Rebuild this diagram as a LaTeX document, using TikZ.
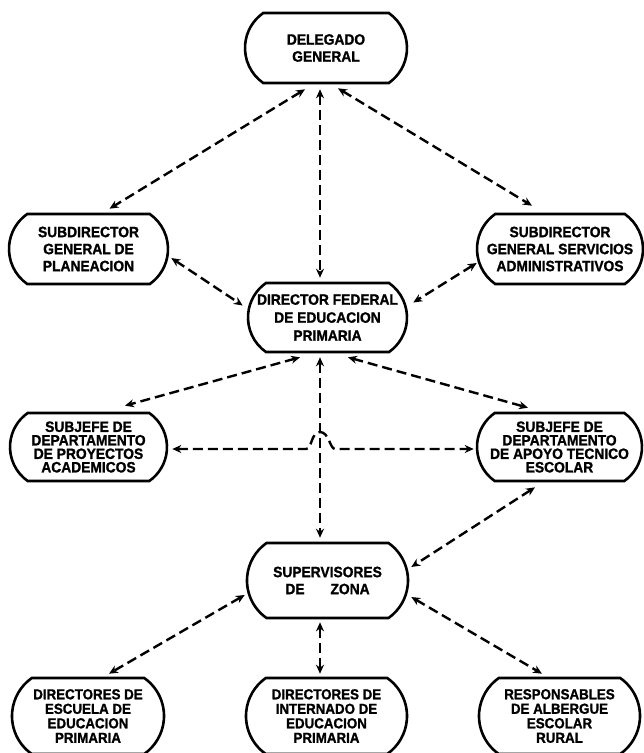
\documentclass[tikz,border=0pt]{standalone}
\usepackage{fontspec}
\newfontfamily\labfont[FakeStretch=0.92,FakeBold=1.2]{Liberation Sans}
\usetikzlibrary{shapes.misc,arrows.meta,calc}
\begin{document}
\begin{tikzpicture}[x=1pt,y=-1pt,
  box/.style={draw, line width=2.6pt, rounded rectangle, rounded rectangle arc length=110,
    inner sep=0pt, align=center, minimum height=70pt, minimum width=160pt,
    font=\labfont\bfseries\fontsize{15pt}{17pt}\selectfont},
  tight/.style={font=\labfont\bfseries\fontsize{15pt}{13.5pt}\selectfont},
  tighter/.style={font=\labfont\bfseries\fontsize{14.5pt}{14.5pt}\selectfont},
  conn/.style={line width=2.4pt, dash pattern=on 10pt off 5pt,
    {Stealth[length=9pt,width=8pt]}-{Stealth[length=9pt,width=8pt]}}]
\clip (0,0) rectangle (644,753);
\fill[white] (0,0) rectangle (644,753);

% nodes
\node[box, minimum width=162pt] (dg) at (326,48) {DELEGADO\\GENERAL};
\node[box, minimum width=159pt] (sp) at (88.5,249) {SUBDIRECTOR\\GENERAL DE\\PLANEACION};
\node[box, minimum width=166pt] (ss) at (560,249) {SUBDIRECTOR\\GENERAL SERVICIOS\\ADMINISTRATIVOS};
\node[box, minimum width=159pt, minimum height=69pt, font=\labfont\bfseries\fontsize{15pt}{18pt}\selectfont] (df) at (327.5,317.5) {DIRECTOR FEDERAL\\DE EDUCACION\\PRIMARIA};
\node[box, tight, minimum width=157pt, minimum height=68pt] (jl) at (88.5,447) {SUBJEFE DE\\DEPARTAMENTO\\DE PROYECTOS\\ACADEMICOS};
\node[box, tight, minimum width=165pt, minimum height=68pt] (jr) at (559.5,447) {SUBJEFE DE\\DEPARTAMENTO\\DE APOYO TECNICO\\ESCOLAR};
\node[box, minimum width=161pt, minimum height=75pt] (sz) at (327.5,580.5) {SUPERVISORES\\DE\hspace{26pt}ZONA};
\node[box, tighter, minimum width=152pt, minimum height=76pt] (bl) at (88,716) {DIRECTORES DE\\ESCUELA DE\\EDUCACION\\PRIMARIA};
\node[box, tighter, minimum width=161pt, minimum height=76pt] (bm) at (326.5,716) {DIRECTORES DE\\INTERNADO DE\\EDUCACION\\PRIMARIA};
\node[box, tighter, minimum width=161pt, minimum height=76pt] (br) at (559.5,716) {RESPONSABLES\\DE ALBERGUE\\ESCOLAR\\RURAL};

% connectors
\draw[conn] ($(dg.south)+(-21,5)$) -- ($(sp.north)+(21,-4)$);
\draw[conn] ($(dg.south)+(-6,5)$) -- ($(df.north)+(-7.5,-4)$);
\draw[conn] ($(dg.south)+(12,4)$) -- ($(ss.north)+(-28,-7)$);
\draw[conn] ($(sp.east)+(2,9)$) -- ($(df.west)+(-4,-12)$);
\draw[conn] ($(ss.west)+(1,14)$) -- ($(df.east)+(5,-15)$);
\draw[conn] ($(df.south)+(-27.5,4)$) -- ($(jl.north)+(36.5,-6)$);
\draw[conn] ($(df.south)+(-7.5,4)$) -- ($(sz.north)+(-7.5,-4)$);
\draw[conn] ($(df.south)+(20.5,4)$) -- ($(jr.north)+(-31.5,-4)$);

\coordinate (h1) at (306,449);
\coordinate (h2) at (320,432);
\coordinate (h3) at (335,449);
\draw[conn] ($(jl.east)+(4,2)$) -- (h1) .. controls (312,449) and (311,432) .. (h2)
  .. controls (329,432) and (330,449) .. (h3) -- ($(jr.west)+(-2,2)$);

\draw[conn] ($(jr.south)+(-24.5,5)$) -- ($(sz.east)+(2,-13.5)$);
\draw[conn] ($(sz.west)+(-1,14.5)$) -- ($(bl.north)+(21,-3)$);
\draw[conn] ($(sz.south)+(-7.5,3)$) -- ($(bm.north)+(-6.5,-3)$);
\draw[conn] ($(sz.east)+(2,16.5)$) -- ($(br.north)+(-17.5,-3)$);
\end{tikzpicture}
\end{document}
